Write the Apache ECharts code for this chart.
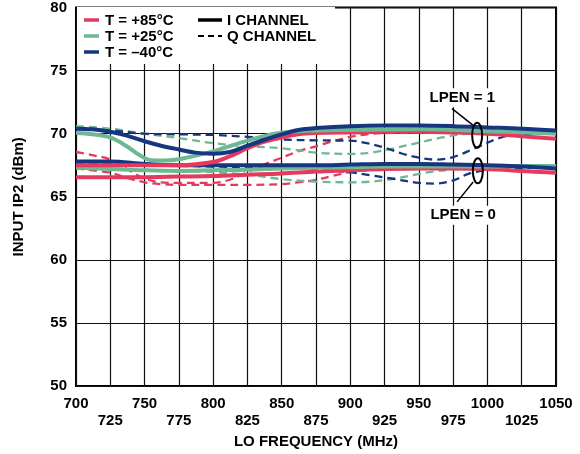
<!DOCTYPE html>
<html>
<head>
<meta charset="utf-8">
<script src="https://cdn.jsdelivr.net/npm/echarts@6/dist/echarts.min.js"></script>
<style>html,body{margin:0;padding:0;background:#fff;}#c{width:580px;height:454px;}</style>
</head>
<body>
<div id="c"></div>
<script>
// ---- Data (LO frequency in MHz, input IP2 in dBm) ----
const xTicks = [700,725,750,775,800,825,850,875,900,925,950,975,1000,1025,1050];
const yTicks = [50,55,60,65,70,75,80];

// LPEN = 1, I channel
const fRedI1 = [700,725,750,775,800,812,825,837,850,862,875,900,925,950,975,1000,1025,1050];
const vRedI1 = [67.5,67.5,67.5,67.5,67.75,68.2,68.85,69.35,69.7,69.95,70.05,70.1,70.15,70.15,70.1,70.0,69.8,69.6];
const fGrnI1 = [700,712,725,737,745,755,765,776,800,825,845,862,900,950,1000,1050];
const vGrnI1 = [70.05,69.95,69.7,69.0,68.4,67.9,67.88,68.0,68.6,69.45,70.0,70.2,70.3,70.35,70.2,70.0];
const fBluI1 = [700,712,725,737,750,762,775,787,800,812,825,837,850,862,875,900,925,950,975,1000,1025,1050];
const vBluI1 = [70.4,70.35,70.15,69.85,69.4,69.05,68.75,68.5,68.42,68.55,69.05,69.5,69.95,70.3,70.45,70.6,70.65,70.65,70.6,70.5,70.4,70.25];

// LPEN = 0, I channel
const fRedI0 = [700,725,750,775,800,825,850,875,900,925,950,975,1000,1025,1050];
const vRedI0 = [66.55,66.55,66.55,66.6,66.65,66.75,66.85,67.0,67.1,67.2,67.25,67.25,67.2,67.05,66.9];
const fGrnI0 = [700,725,750,775,800,825,850,875,900,925,950,975,1000,1025,1050];
const vGrnI0 = [67.3,67.2,67.1,67.05,67.1,67.15,67.25,67.3,67.35,67.4,67.4,67.4,67.4,67.45,67.45];
const fBluI0 = [700,725,750,775,800,825,850,875,900,925,950,975,1000,1025,1050];
const vBluI0 = [67.8,67.8,67.6,67.5,67.5,67.5,67.5,67.5,67.55,67.6,67.6,67.55,67.5,67.4,67.25];

// LPEN = 1, Q channel
const fRedQ1 = [700,712,725,737,750,762,775,800,812,825,837,850,862,875,887,900,912,925,950,975,1000,1025,1050];
const vRedQ1 = [68.55,68.3,67.95,67.2,66.45,66.15,66.1,66.1,66.35,66.95,67.55,68.1,68.6,69.0,69.4,69.75,69.95,70.05,70.1,70.1,70.0,69.8,69.6];
const fGrnQ1 = [700,725,750,775,800,825,850,875,900,915,930,950,967,985,1000,1025,1050];
const vGrnQ1 = [70.6,70.4,70.0,69.65,69.25,69.0,68.85,68.5,68.4,68.5,68.8,69.3,69.7,70.0,70.1,70.15,70.15];
const fBluQ1 = [700,725,750,775,800,825,850,875,900,912,925,937,950,962,975,990,1010,1025,1050];
const vBluQ1 = [70.4,70.25,70.0,69.95,69.9,69.75,69.55,69.47,69.45,69.25,68.9,68.45,68.1,67.95,68.15,68.8,69.7,69.95,70.1];

// LPEN = 0, Q channel
const fRedQ0 = [700,725,737,750,762,775,800,825,850,862,875,887,900,912,925,950,975,1000,1025,1050];
const vRedQ0 = [67.25,66.9,66.5,66.15,66.0,65.95,65.95,65.95,66.0,66.15,66.35,66.65,66.95,67.1,67.2,67.25,67.25,67.2,67.05,66.9];
const fGrnQ0 = [700,725,750,775,800,825,850,875,900,915,930,945,960,985,1000,1025,1050];
const vGrnQ0 = [67.35,67.25,67.15,67.05,66.95,66.75,66.4,66.2,66.15,66.2,66.4,66.7,67.0,67.25,67.35,67.45,67.5];
const fBluQ0 = [700,725,750,775,800,825,850,875,890,900,915,930,950,962,975,987,1000,1025,1050];
const vBluQ0 = [67.6,67.6,67.5,67.45,67.4,67.35,67.3,67.2,67.05,66.95,66.7,66.45,66.1,66.05,66.3,66.85,67.1,67.25,67.45];

const RED = '#E5395E', GRN = '#6DB993', BLU = '#17367F';
const FONT = '"Liberation Sans", Arial, sans-serif';

function zip(f, v){ return f.map((x,i)=>[x, v[i]]); }
function mk(name, f, v, color, dashed){
  return {
    name: name, type: 'line', smooth: 0.35, symbol: 'none', silent: true,
    data: zip(f, v),
    z: dashed ? 2 : 3,
    lineStyle: dashed ? {color: color, width: 2.3, type: [8,5]} : {color: color, width: 4}
  };
}

const chart = echarts.init(document.getElementById('c'), null, {renderer: 'canvas'});
const option = {
  animation: false,
  backgroundColor: '#fff',
  grid: {left: 76, right: 24, top: 6, bottom: 66, show: true, borderColor: '#000', borderWidth: 2, backgroundColor: 'transparent'},
  xAxis: {
    type: 'value', min: 700, max: 1050, interval: 25,
    name: 'LO FREQUENCY (MHz)', nameLocation: 'middle', nameGap: 41,
    nameTextStyle: {fontFamily: FONT, fontWeight: 'bold', fontSize: 15, color: '#000'},
    axisLine: {show: false}, axisTick: {show: false},
    axisLabel: {
      margin: 9, fontFamily: FONT, fontWeight: 'bold', fontSize: 15, color: '#000', lineHeight: 17,
      showMinLabel: true, showMaxLabel: true,
      formatter: function(v){ return (xTicks.indexOf(v) % 2 === 1) ? '\n' + v : String(v); }
    },
    splitLine: {show: true, lineStyle: {color: '#111', width: 1.2}}
  },
  yAxis: {
    type: 'value', min: 50, max: 80, interval: 5,
    name: 'INPUT IP2 (dBm)', nameLocation: 'middle', nameGap: 50,
    nameTextStyle: {fontFamily: FONT, fontWeight: 'bold', fontSize: 15, color: '#000'},
    axisLine: {show: false}, axisTick: {show: false},
    axisLabel: {margin: 9, fontFamily: FONT, fontWeight: 'bold', fontSize: 15, color: '#000',
      formatter: function(v){ return yTicks.indexOf(v) >= 0 ? String(v) : ''; }},
    splitLine: {show: true, lineStyle: {color: '#111', width: 1.2}}
  },
  series: [
    mk('redQ1', fRedQ1, vRedQ1, RED, true),
    mk('grnQ1', fGrnQ1, vGrnQ1, GRN, true),
    mk('bluQ1', fBluQ1, vBluQ1, BLU, true),
    mk('redQ0', fRedQ0, vRedQ0, RED, true),
    mk('grnQ0', fGrnQ0, vGrnQ0, GRN, true),
    mk('bluQ0', fBluQ0, vBluQ0, BLU, true),
    mk('redI0', fRedI0, vRedI0, RED, false),
    mk('grnI0', fGrnI0, vGrnI0, GRN, false),
    mk('bluI0', fBluI0, vBluI0, BLU, false),
    mk('redI1', fRedI1, vRedI1, RED, false),
    mk('grnI1', fGrnI1, vGrnI1, GRN, false),
    mk('bluI1', fBluI1, vBluI1, BLU, false)
  ]
};
chart.setOption(option);

// ---- Legend and annotations (graphic) ----
const P = (x, y) => chart.convertToPixel({gridIndex: 0}, [x, y]);
const tStyle = (txt, x, y, extra) => Object.assign({text: txt, x: x, y: y, fill: '#000',
  font: 'bold 15px ' + FONT, textAlign: 'left', textVerticalAlign: 'middle'}, extra || {});

const legendItems = [
  {label: 'T = +85°C', color: RED},
  {label: 'T = +25°C', color: GRN},
  {label: 'T = \u201340°C', color: BLU}
];
const g = [];
g.push({type: 'rect', z: 10, shape: {x: 77, y: 7, width: 258, height: 57}, style: {fill: '#fff'}});
legendItems.forEach((it, i) => {
  const y = 20 + i * 16;
  g.push({type: 'line', z: 11, shape: {x1: 84, y1: y, x2: 99, y2: y}, style: {stroke: it.color, lineWidth: 3.5}});
  g.push({type: 'text', z: 11, style: tStyle(it.label, 105, y + 0.5)});
});
g.push({type: 'line', z: 11, shape: {x1: 198, y1: 20, x2: 222, y2: 20}, style: {stroke: '#000', lineWidth: 3.5}});
g.push({type: 'text', z: 11, style: tStyle('I CHANNEL', 227, 20.5)});
g.push({type: 'line', z: 11, shape: {x1: 198, y1: 36, x2: 222, y2: 36}, style: {stroke: '#000', lineWidth: 1.8, lineDash: [6, 4]}});
g.push({type: 'text', z: 11, style: tStyle('Q CHANNEL', 227, 36.5)});

// annotation positions in data coordinates
const annUpper = {label: 'LPEN = 1', at: [981.7, 72.85], ell: [992.5, 69.87], l1: [974.2, 71.99], l2: [989.6, 70.66]};
const annLower = {label: 'LPEN = 0', at: [982.3, 63.53], ell: [993, 67.06], l1: [989.6, 66.17], l2: [977.9, 64.6]};
[annUpper, annLower].forEach(a => {
  const c = P(a.ell[0], a.ell[1]);
  g.push({type: 'ellipse', z: 12, shape: {cx: c[0], cy: c[1], rx: 5, ry: 12.5}, style: {fill: 'none', stroke: '#000', lineWidth: 2}});
  const p1 = P(a.l1[0], a.l1[1]), p2 = P(a.l2[0], a.l2[1]);
  g.push({type: 'line', z: 12, shape: {x1: p1[0], y1: p1[1], x2: p2[0], y2: p2[1]}, style: {stroke: '#000', lineWidth: 1.5}});
  const t = P(a.at[0], a.at[1]);
  g.push({type: 'text', z: 12, style: tStyle(a.label, t[0], t[1], {textAlign: 'center', backgroundColor: '#fff', padding: [2, 3]})});
});
chart.setOption({graphic: {elements: g}});
</script>
</body>
</html>
